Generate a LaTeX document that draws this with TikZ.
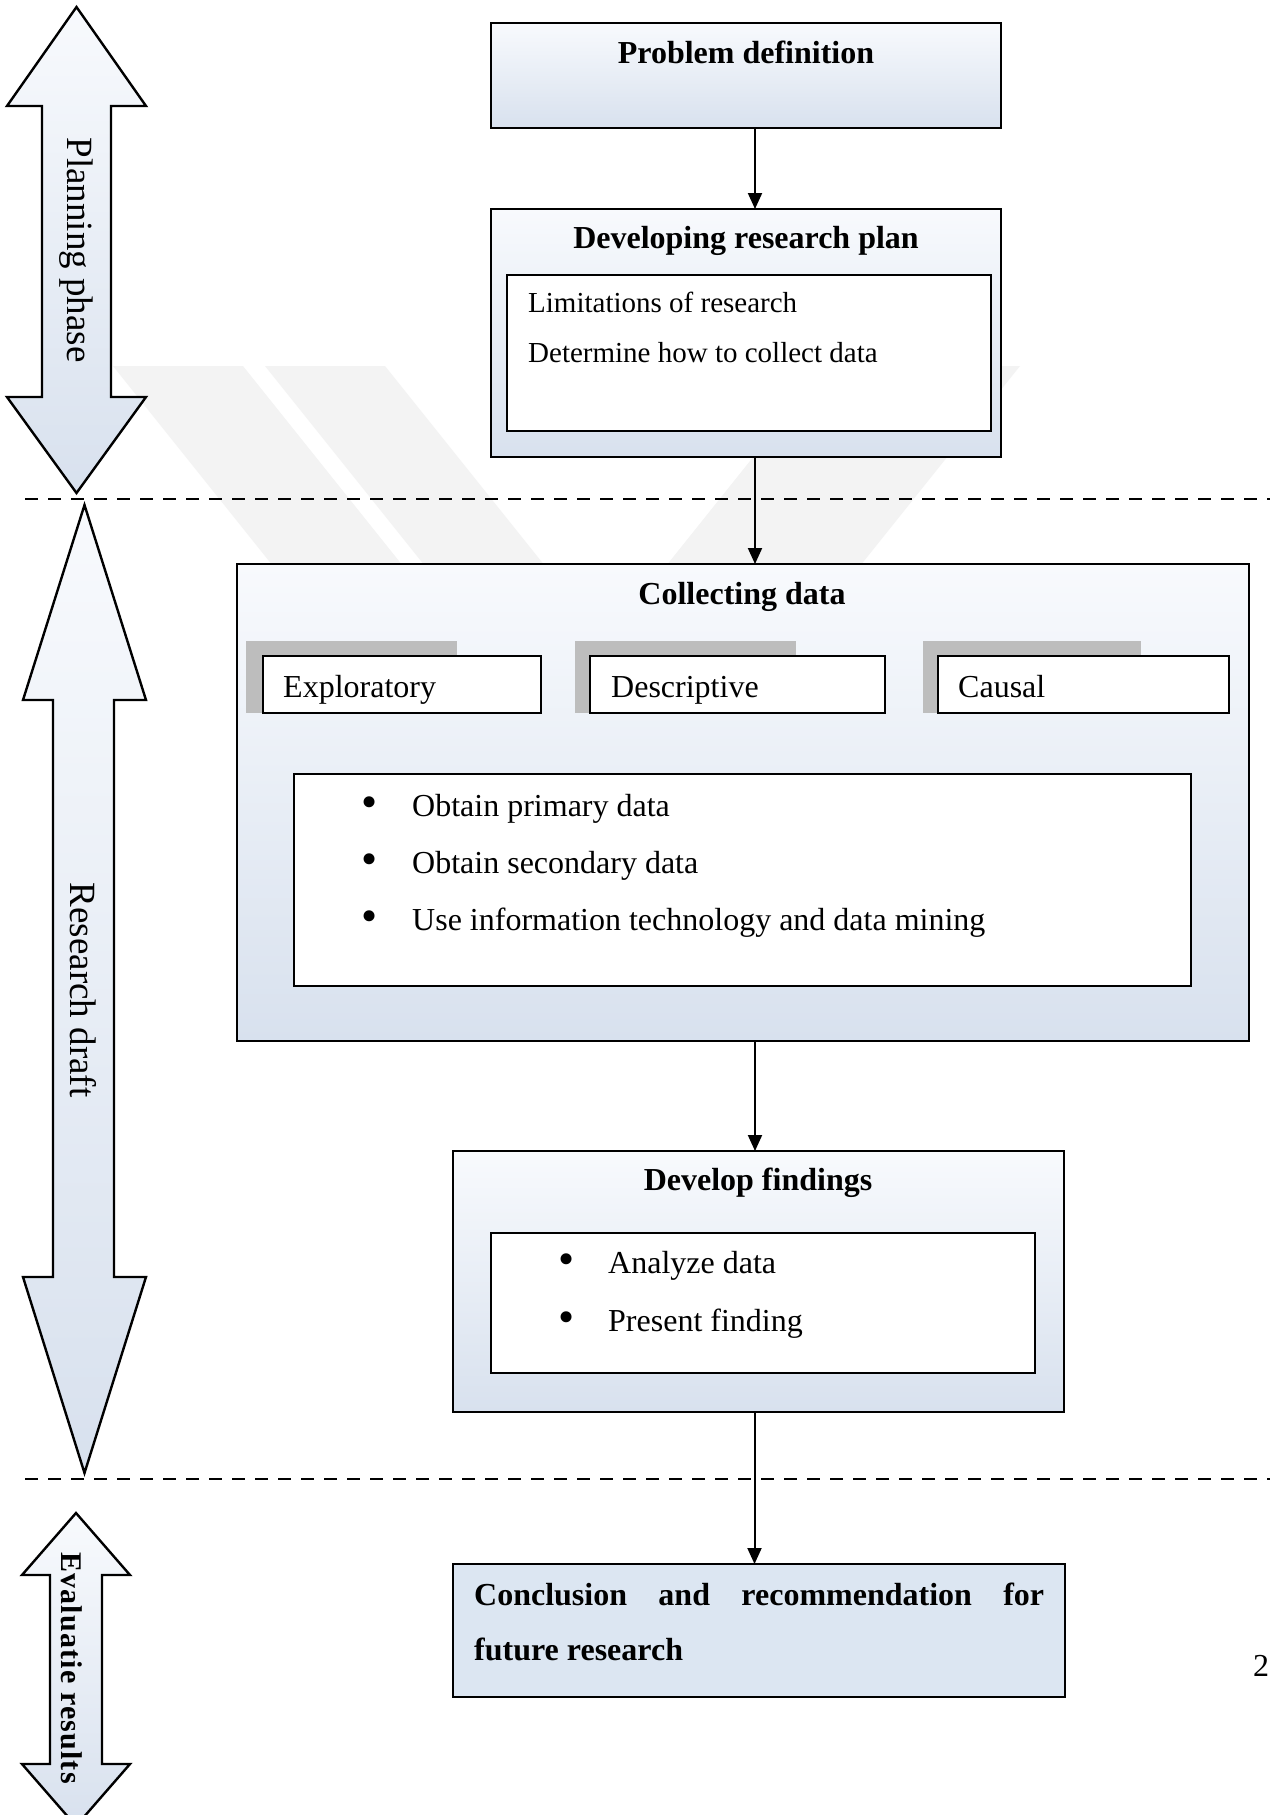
\documentclass[tikz,border=0pt]{standalone}
\usepackage{fontspec}
\setmainfont{Liberation Serif}
\usetikzlibrary{arrows.meta}
\definecolor{gtop}{HTML}{F8FAFD}
\definecolor{gbot}{HTML}{D8E1EE}
\definecolor{flatblue}{HTML}{DCE6F2}
\definecolor{wmark}{HTML}{F3F3F3}
\definecolor{tabgray}{HTML}{BDBDBD}
\tikzset{
  outerbox/.style={rectangle, draw=black, line width=2.6pt, top color=gtop, bottom color=gbot, inner sep=0pt, outer sep=0pt, anchor=north west},
  flatbox/.style={rectangle, draw=black, line width=2.6pt, fill=flatblue, inner sep=0pt, outer sep=0pt, anchor=north west},
  innerbox/.style={rectangle, draw=black, line width=2pt, fill=white, inner sep=0pt, outer sep=0pt, anchor=north west},
  tabbox/.style={rectangle, fill=tabgray, inner sep=0pt, outer sep=0pt, anchor=north west},
  conn/.style={line width=2pt, -{Triangle[length=16pt,width=14pt]}},
  divider/.style={line width=2pt, dash pattern=on 13pt off 10pt},
  blockarrow/.style={draw=black, line width=2.4pt, line join=miter, top color=gtop, bottom color=gbot},
  titletext/.style={font=\fontsize{32}{38}\selectfont\bfseries, anchor=base, inner sep=0pt},
  bodytext/.style={font=\fontsize{32}{38}\selectfont, anchor=base west, inner sep=0pt},
  smalltext/.style={font=\fontsize{29}{34}\selectfont, anchor=base west, inner sep=0pt},
  bulletmark/.style={font=\fontsize{46}{46}\selectfont, anchor=center, inner sep=0pt},
  sidetext/.style={font=\fontsize{37}{40}\selectfont, anchor=base, rotate=-90, inner sep=0pt},
  sideboldtext/.style={font=\fontsize{30}{34}\selectfont\bfseries\addfontfeature{LetterSpace=4}, anchor=base, rotate=-90, inner sep=0pt},
}
\begin{document}
\begin{tikzpicture}[x=1pt,y=-1pt]
\useasboundingbox (0,0) rectangle (1270,1815);
\fill[white] (0,0) rectangle (1270,1815);

% watermark
\fill[wmark] (113,366) -- (243,366) -- (563,766) -- (433,766) -- cycle;
\fill[wmark] (265,366) -- (385,366) -- (705,766) -- (585,766) -- cycle;
\fill[wmark] (826,366) -- (1020,366) -- (700,766) -- (506,766) -- cycle;

% side block arrows
\path[blockarrow] (76.5,7) -- (146,106) -- (111,106) -- (111,397) -- (146,397) -- (76.5,493) -- (7,397) -- (42,397) -- (42,106) -- (7,106) -- cycle;
\path[blockarrow] (84.5,505) -- (146,700) -- (114,700) -- (114,1277) -- (146,1277) -- (84.5,1473) -- (23,1277) -- (53,1277) -- (53,700) -- (23,700) -- cycle;
\path[blockarrow] (76,1513) -- (130,1575) -- (102,1575) -- (102,1764) -- (130,1764) -- (76,1826) -- (22,1764) -- (50,1764) -- (50,1575) -- (22,1575) -- cycle;
\node[sidetext] (lplan) at (67,250) {Planning phase};
\node[sidetext] (lres) at (70,990) {Research draft};
\node[sideboldtext] (leval) at (61,1668) {Evaluatie results};

% dividers
\coordinate (d1a) at (25,499);
\coordinate (d1b) at (1270,499);
\coordinate (d2a) at (25,1479);
\coordinate (d2b) at (1270,1479);
\draw[divider] (d1a) -- (d1b);
\draw[divider] (d2a) -- (d2b);

% Problem definition
\node[outerbox, minimum width=510pt, minimum height=105pt] (P1) at (491,23) {};
\node[titletext] (t1) at (746,63) {Problem definition};

% Developing research plan
\node[outerbox, minimum width=510pt, minimum height=248pt] (P2) at (491,209) {};
\node[titletext] (t2) at (746,248) {Developing research plan};
\node[innerbox, minimum width=484pt, minimum height=156pt] (I2) at (507,275) {};
\node[smalltext] (a1) at (528,312) {Limitations of research};
\node[smalltext] (a2) at (528,362) {Determine how to collect data};

% Collecting data
\node[outerbox, minimum width=1012pt, minimum height=477pt] (P3) at (237,564) {};
\node[titletext] (t3) at (742,604) {Collecting data};
\node[tabbox, minimum width=211pt, minimum height=72pt] (g1) at (246,641) {};
\node[innerbox, minimum width=278pt, minimum height=57pt] (w1) at (263,656) {};
\node[bodytext] (e1) at (283,697) {Exploratory};
\node[tabbox, minimum width=221pt, minimum height=72pt] (g2) at (575,641) {};
\node[innerbox, minimum width=295pt, minimum height=57pt] (w2) at (590,656) {};
\node[bodytext] (e2) at (611,697) {Descriptive};
\node[tabbox, minimum width=218pt, minimum height=72pt] (g3) at (923,641) {};
\node[innerbox, minimum width=291pt, minimum height=57pt] (w3) at (938,656) {};
\node[bodytext] (e3) at (958,697) {Causal};
\node[innerbox, minimum width=897pt, minimum height=212pt] (I3) at (294,774) {};
\node[bulletmark] (b1) at (370,807) {•};
\node[bodytext] (c1) at (412,816) {Obtain primary data};
\node[bulletmark] (b2) at (370,864) {•};
\node[bodytext] (c2) at (412,873) {Obtain secondary data};
\node[bulletmark] (b3) at (370,921) {•};
\node[bodytext] (c3) at (412,930) {Use information technology and data mining};

% Develop findings
\node[outerbox, minimum width=611pt, minimum height=261pt] (P4) at (453,1151) {};
\node[titletext] (t4) at (758,1190) {Develop findings};
\node[innerbox, minimum width=544pt, minimum height=140pt] (I4) at (491,1233) {};
\node[bulletmark] (b4) at (567,1264) {•};
\node[bodytext] (f1) at (608,1273) {Analyze data};
\node[bulletmark] (b5) at (567,1322) {•};
\node[bodytext] (f2) at (608,1331) {Present finding};

% Conclusion
\node[flatbox, minimum width=612pt, minimum height=133pt] (P5) at (453,1564) {};
\node[titletext, anchor=base west] (t5a) at (474,1605) {\makebox[570pt][s]{Conclusion and recommendation for}};
\node[titletext, anchor=base west] (t5b) at (474,1660) {future research};

% page number fragment
\node[bodytext] (pg) at (1253,1676) {2};

% connectors
\draw[conn] ([xshift=9pt]P1.south) -- ([xshift=9pt]P2.north);
\draw[conn] ([xshift=9pt]P2.south) -- ([xshift=9pt]P2.south |- P3.north);
\draw[conn] ([xshift=12pt]P3.south) -- ([xshift=12pt]P3.south |- P4.north);
\draw[conn] ([xshift=-4pt]P4.south) -- ([xshift=-4pt]P4.south |- P5.north);
\end{tikzpicture}
\end{document}
